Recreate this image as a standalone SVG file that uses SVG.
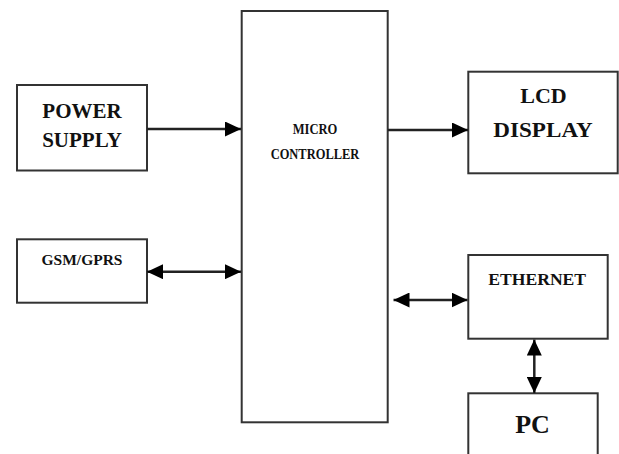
<svg xmlns="http://www.w3.org/2000/svg" width="619" height="454" viewBox="0 0 619 454">
  <style>
    .box { fill: #ffffff; stroke: #333333; stroke-width: 2; }
    .lbl { font-family: "Liberation Serif", "DejaVu Serif", serif; font-weight: bold; fill: #111111; text-anchor: middle; }
    .wire { fill: none; stroke: #222222; stroke-width: 2.5; }
  </style>
  <defs>
    <marker id="head" markerUnits="userSpaceOnUse" markerWidth="16" markerHeight="15" refX="16" refY="7.5" orient="auto-start-reverse" viewBox="0 0 16 15">
      <path d="M0,0 L16,7.5 L0,15 z" fill="#000000"/>
    </marker>
  </defs>
  <rect width="619" height="454" fill="#ffffff"/>

  <g id="power-supply">
    <rect class="box" x="17" y="85" width="130" height="85.5"/>
    <text class="lbl" x="82" y="118.3" font-size="21">POWER</text>
    <text class="lbl" x="82" y="146.7" font-size="21">SUPPLY</text>
  </g>

  <g id="gsm-gprs">
    <rect class="box" x="17" y="239.3" width="130" height="63.4"/>
    <text class="lbl" x="82" y="265" font-size="14.5" textLength="81" lengthAdjust="spacingAndGlyphs">GSM/GPRS</text>
  </g>

  <g id="micro-controller">
    <rect class="box" x="241.7" y="11" width="146" height="411.3"/>
    <text class="lbl" x="315" y="134" font-size="15.5" textLength="44.7" lengthAdjust="spacingAndGlyphs">MICRO</text>
    <text class="lbl" x="315" y="159.3" font-size="15.5" textLength="88.7" lengthAdjust="spacingAndGlyphs">CONTROLLER</text>
  </g>

  <g id="lcd-display">
    <rect class="box" x="468.3" y="71.7" width="149.4" height="101.6"/>
    <text class="lbl" x="543.5" y="103.3" font-size="22">LCD</text>
    <text class="lbl" x="543" y="136.7" font-size="22" textLength="99.3" lengthAdjust="spacingAndGlyphs">DISPLAY</text>
  </g>

  <g id="ethernet">
    <rect class="box" x="468.3" y="255" width="139.4" height="83.7"/>
    <text class="lbl" x="537.2" y="285" font-size="17" textLength="97.7" lengthAdjust="spacingAndGlyphs">ETHERNET</text>
  </g>

  <g id="pc">
    <rect class="box" x="468.3" y="393.3" width="129.4" height="70"/>
    <text class="lbl" x="532.5" y="433.3" font-size="26">PC</text>
  </g>

  <g id="connectors">
    <path class="wire" d="M147,129 H241" marker-end="url(#head)"/>
    <path class="wire" d="M147,271.7 H241" marker-start="url(#head)" marker-end="url(#head)"/>
    <path class="wire" d="M388,130 H468" marker-end="url(#head)"/>
    <path class="wire" d="M393.5,300 H467.5" marker-start="url(#head)" marker-end="url(#head)"/>
    <path class="wire" d="M534.3,339.5 V393" marker-start="url(#head)" marker-end="url(#head)"/>
  </g>
</svg>
